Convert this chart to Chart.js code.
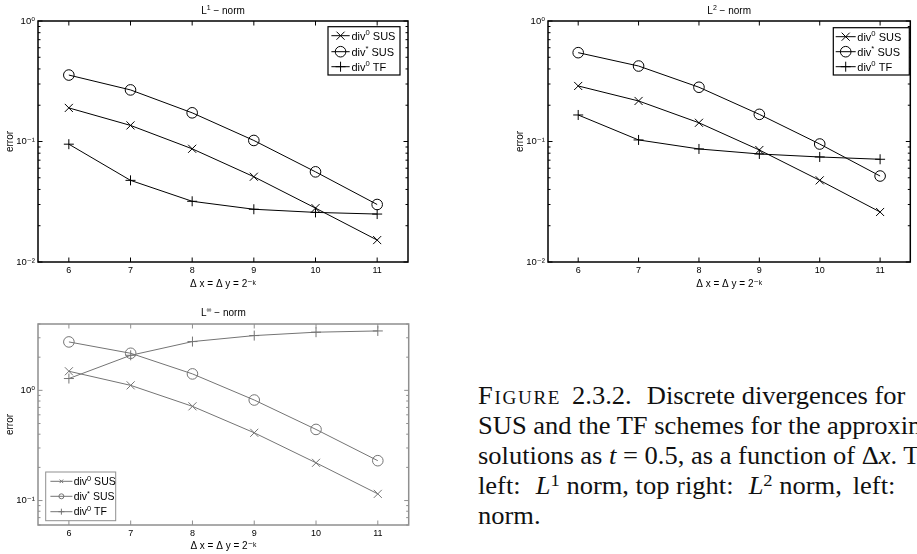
<!DOCTYPE html>
<html>
<head>
<meta charset="utf-8">
<script src="https://cdn.jsdelivr.net/npm/chart.js@4.4.1/dist/chart.umd.min.js"></script>
<style>
  html, body { margin: 0; padding: 0; background: #fff; width: 917px; height: 554px; overflow: hidden; }
  canvas { position: absolute; }
  #l1 { left: 0; top: 0; }
  #l2 { left: 510px; top: 0; }
  #linf { left: 0; top: 300px; }
  .caption {
    position: absolute; left: 478px; top: 380.5px;
    font-family: "Liberation Serif", "DejaVu Serif", serif;
    font-size: 25px; line-height: 30.2px; white-space: nowrap; color: #111;
    transform: scaleX(1.06); transform-origin: 0 0;
  }
  .caption .sc { font-variant: small-caps; letter-spacing: 1.6px; }
  .caption sup { font-size: 70%; line-height: 0; vertical-align: 0.45em; }
  .caption .gap { display: inline-block; width: 8px; }
  .caption .gap2 { display: inline-block; width: 4px; }
</style>
</head>
<body>
<canvas id="l1" width="460" height="295"></canvas>
<canvas id="l2" width="407" height="295"></canvas>
<canvas id="linf" width="460" height="254"></canvas>

<div class="caption">
  <div><span class="sc">Figure</span><span class="gap2"></span> 2.3.2.<span class="gap"></span> Discrete divergences for</div>
  <div>SUS and the TF schemes for the approximate</div>
  <div>solutions as <i>t</i> = 0.5, as a function of Δ<i>x</i>. Top</div>
  <div>left:<span class="gap"></span> <i>L</i><sup>1</sup> norm, top right:<span class="gap"></span> <i>L</i><sup>2</sup> norm,<span class="gap2"></span> left:</div>
  <div>norm.</div>
</div>

<script>
// grid refinement level k, dx = dy = 2^-k
const ks = [6, 7, 8, 9, 10, 11];
const xTicks = [6, 7, 8, 9, 10, 11];

// L1 errors
const l1Sus0 = [0.19, 0.136, 0.087, 0.051, 0.028, 0.0152];
const l1SusStar = [0.356, 0.268, 0.173, 0.102, 0.056, 0.030];
const l1Tf0 = [0.095, 0.0476, 0.0319, 0.0274, 0.0258, 0.025];

// L2 errors
const l2Sus0 = [0.289, 0.217, 0.143, 0.085, 0.0476, 0.026];
const l2SusStar = [0.546, 0.423, 0.282, 0.168, 0.0953, 0.0517];
const l2Tf0 = [0.166, 0.103, 0.0867, 0.0788, 0.0744, 0.0712];

// Linf errors
const liSus0 = [1.49, 1.11, 0.716, 0.412, 0.220, 0.115];
const liSusStar = [2.75, 2.17, 1.41, 0.817, 0.442, 0.230];
const liTf0 = [1.28, 2.08, 2.77, 3.14, 3.37, 3.46];

// y tick values and their labels
const yTicksTop = [0.01, 0.1, 1];
const yLabelsTop = ['10⁻²', '10⁻¹', '10⁰'];
const yTicksInf = [0.1, 1];
const yLabelsInf = ['10⁻¹', '10⁰'];

const seriesNames = ['div0 SUS', 'div* SUS', 'div0 TF'];
const legendParts = [['div', '0', ' SUS'], ['div', '*', ' SUS'], ['div', '0', ' TF']];
const markers = ['crossRot', 'circle', 'cross'];
const xTitle = 'Δ x = Δ y = 2⁻ᵏ';
const yTitle = 'error';

const FONT = "'Liberation Sans', 'DejaVu Sans', Arial, sans-serif";
Chart.defaults.font.family = FONT;
Chart.defaults.color = '#000';

// base text followed by a raised smaller part and more base text
function drawRich(ctx, parts, x, y, size, align) {
  const base = size + 'px ' + FONT;
  const small = (size * 0.7) + 'px ' + FONT;
  const fonts = [base, small, base];
  let total = 0;
  const widths = parts.map((p, i) => { ctx.font = fonts[i]; const w = ctx.measureText(p).width; total += w; return w; });
  let cx = align === 'center' ? x - total / 2 : x;
  ctx.textAlign = 'left';
  ctx.textBaseline = 'alphabetic';
  parts.forEach((p, i) => {
    ctx.font = fonts[i];
    ctx.fillText(p, cx, i === 1 ? y - size * 0.42 : y);
    cx += widths[i];
  });
}

function drawMarker(ctx, style, x, y, r) {
  ctx.beginPath();
  if (style === 'circle') {
    ctx.arc(x, y, r, 0, Math.PI * 2);
  } else if (style === 'cross') {
    ctx.moveTo(x - r, y); ctx.lineTo(x + r, y);
    ctx.moveTo(x, y - r); ctx.lineTo(x, y + r);
  } else {
    const d = r * 0.7071;
    ctx.moveTo(x - d, y - d); ctx.lineTo(x + d, y + d);
    ctx.moveTo(x - d, y + d); ctx.lineTo(x + d, y - d);
  }
  ctx.stroke();
}

// MATLAB style box: frame, inward ticks on all sides, title and legend
const frame = {
  id: 'frame',
  afterDraw(chart, args, o) {
    const { ctx, chartArea: a } = chart;
    const xs = chart.scales.x, ys = chart.scales.y;
    ctx.save();
    ctx.strokeStyle = o.color;
    ctx.lineWidth = 1;
    const seg = (x1, y1, x2, y2) => { ctx.beginPath(); ctx.moveTo(x1, y1); ctx.lineTo(x2, y2); ctx.stroke(); };

    xs.ticks.forEach(t => {
      const px = xs.getPixelForValue(t.value);
      seg(px, a.bottom, px, a.bottom - 4.5);
      seg(px, a.top, px, a.top + 4.5);
    });
    const e0 = Math.floor(Math.log10(ys.min)), e1 = Math.ceil(Math.log10(ys.max));
    for (let e = e0; e <= e1; e++) {
      for (let m = 1; m < 10; m++) {
        const v = m * Math.pow(10, e);
        if (v < ys.min * 0.999 || v > ys.max * 1.001) continue;
        const py = ys.getPixelForValue(v);
        const len = m === 1 ? 4.5 : 2.5;
        seg(a.left, py, a.left + len, py);
        seg(a.right, py, a.right - len, py);
      }
    }
    ctx.lineWidth = o.frameWidth;
    ctx.strokeRect(a.left, a.top, a.right - a.left, a.bottom - a.top);

    // title
    ctx.fillStyle = '#000';
    drawRich(ctx, o.title, (a.left + a.right) / 2, o.titleY, 10, 'center');

    // legend
    const L = o.legend;
    const bx = L.left < 0 ? a.right + L.left : a.left + L.left;
    const by = L.top < 0 ? a.bottom + L.top : a.top + L.top;
    ctx.fillStyle = '#fff';
    ctx.fillRect(bx, by, L.w, L.h);
    ctx.lineWidth = L.boxWidth;
    ctx.strokeStyle = L.boxColor;
    ctx.strokeRect(bx, by, L.w, L.h);
    chart.data.datasets.forEach((ds, i) => {
      const ry = by + L.rows[i];
      ctx.strokeStyle = ds.borderColor;
      ctx.lineWidth = 1;
      seg(bx + L.x1, ry, bx + L.x2, ry);
      drawMarker(ctx, ds.pointStyle, bx + (L.x1 + L.x2) / 2, ry, L.radii[i]);
      ctx.fillStyle = '#000';
      drawRich(ctx, legendParts[i], bx + L.tx, ry + L.size * 0.36, L.size, 'left');
    });
    ctx.restore();
  }
};

function makeDatasets(lists, color, radii) {
  return lists.map((vals, i) => ({
    label: seriesNames[i],
    data: ks.map((k, j) => ({ x: k, y: vals[j] })),
    borderColor: color,
    borderWidth: 1,
    pointStyle: markers[i],
    pointRadius: radii[i],
    pointBorderWidth: 1,
    pointBorderColor: color,
    pointBackgroundColor: 'rgba(0,0,0,0)',
    tension: 0,
    fill: false,
    clip: false
  }));
}

function makeChart(id, p) {
  return new Chart(document.getElementById(id), {
    type: 'line',
    data: { datasets: makeDatasets(p.lists, p.lineColor, p.radii) },
    options: {
      responsive: false,
      animation: false,
      events: [],
      layout: { padding: p.pad },
      plugins: {
        legend: { display: false },
        tooltip: { enabled: false },
        frame: p.frame
      },
      scales: {
        x: {
          type: 'linear',
          min: 5.5,
          max: 11.5,
          afterBuildTicks: s => { s.ticks = xTicks.map(v => ({ value: v })); },
          afterFit: s => { s.height = p.xHeight; },
          grid: { display: false, drawTicks: false },
          border: { display: false },
          ticks: { padding: 3, font: { size: 9 }, color: '#000' },
          title: { display: true, text: xTitle, font: { size: 10 }, padding: { top: 0, bottom: p.xTitlePad } }
        },
        y: {
          type: 'logarithmic',
          min: p.yMin,
          max: p.yMax,
          afterBuildTicks: s => { s.ticks = p.yTicks.map(v => ({ value: v })); },
          afterFit: s => { s.width = 38; },
          grid: { display: false, drawTicks: false },
          border: { display: false },
          ticks: { padding: 3, font: { size: 9.5 }, color: '#000', callback: (v, i) => p.yLabels[i] },
          title: { display: true, text: yTitle, font: { size: 10 }, padding: { top: 4, bottom: 0 } }
        }
      }
    },
    plugins: [frame]
  });
}

const bigRadii = [5.7, 5.3, 5];

makeChart('l1', {
  lists: [l1Sus0, l1SusStar, l1Tf0],
  lineColor: '#000',
  radii: bigRadii,
  pad: { top: 21, right: 52, left: 0, bottom: 0 },
  xHeight: 33, xTitlePad: 4.7,
  yMin: 0.01, yMax: 1, yTicks: yTicksTop, yLabels: yLabelsTop,
  frame: {
    color: '#000', frameWidth: 1.5,
    title: ['L', '1', ' − norm'], titleY: 14,
    legend: { left: -80, top: 5.7, w: 72, h: 48.3, boxWidth: 1.2, boxColor: '#000',
              rows: [9, 25, 40], x1: 3.4, x2: 21.7, tx: 23.4, size: 11, radii: bigRadii }
  }
});

makeChart('l2', {
  lists: [l2Sus0, l2SusStar, l2Tf0],
  lineColor: '#000',
  radii: bigRadii,
  pad: { top: 21, right: 1, left: 0, bottom: 0 },
  xHeight: 33, xTitlePad: 4.7,
  yMin: 0.01, yMax: 1, yTicks: yTicksTop, yLabels: yLabelsTop,
  frame: {
    color: '#000', frameWidth: 1.5,
    title: ['L', '2', ' − norm'], titleY: 14,
    legend: { left: -77, top: 6.7, w: 76, h: 47.3, boxWidth: 1.2, boxColor: '#000',
              rows: [9, 24, 39], x1: 2.4, x2: 22.4, tx: 24, size: 11, radii: bigRadii }
  }
});

makeChart('linf', {
  lists: [liSus0, liSusStar, liTf0],
  lineColor: '#747474',
  radii: bigRadii,
  pad: { top: 24, right: 51.3, left: 0, bottom: 0 },
  xHeight: 29, xTitlePad: 2,
  yMin: 0.06, yMax: 4, yTicks: yTicksInf, yLabels: yLabelsInf,
  frame: {
    color: '#8f8f8f', frameWidth: 1.5,
    title: ['L', '∞', ' − norm'], titleY: 16,
    legend: { left: 7.7, top: -53, w: 70, h: 48.7, boxWidth: 1, boxColor: '#8f8f8f',
              rows: [9.3, 24.3, 39.7], x1: 4.7, x2: 26.7, tx: 28, size: 10.5, radii: [2.5, 2.5, 3] }
  }
});
</script>
</body>
</html>
